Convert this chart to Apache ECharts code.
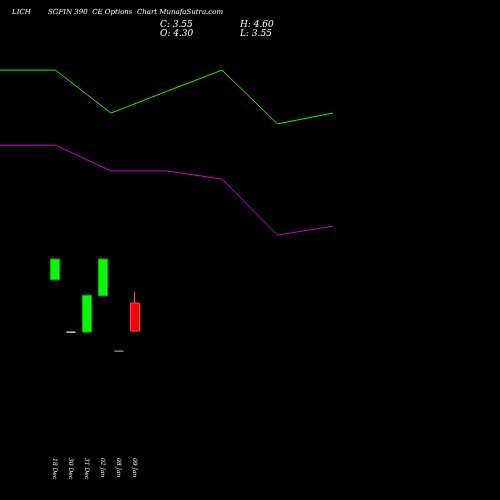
<!DOCTYPE html><html><head><meta charset="utf-8"><script src="https://cdn.jsdelivr.net/npm/echarts@6/dist/echarts.min.js"></script></head><body style="margin:0;background:#000"><div id="c" style="width:500px;height:500px"></div><script>
const dates=['18 Dec','30 Dec','31 Dec','02 Jan','08 Jan','09 Jan'];
// [open, close, low, high]
const candles=[[4.92,5.48,4.92,5.48],[3.52,3.52,3.52,3.52],[3.52,4.51,3.52,4.51],[4.49,5.48,4.49,5.48],[3.01,3.01,3.01,3.01],[4.30,3.55,3.55,4.60]];
const flatColors={1:'#88ff88',4:'#669966'};
const lineX=[0,1,2,3,4,5,6];
const greenLine=[10.54,10.54,9.39,9.97,10.54,9.10,9.39];
const magentaLine=[8.53,8.53,7.84,7.84,7.62,6.12,6.36];
const yMin=0.898,yMax=12.42;
const ch=echarts.init(document.getElementById('c'));
const f='italic 7px "DejaVu Serif"';
ch.setOption({backgroundColor:'#000',animation:false,
grid:[{left:0,width:333,top:0,height:430},{left:47,width:96,top:0,height:430}],
xAxis:[{gridIndex:0,type:'value',min:0,max:6,show:false},
{gridIndex:1,type:'category',data:dates,axisLine:{show:false},axisTick:{show:false},axisLabel:{rotate:-90,color:'#fff',fontSize:6,fontFamily:'DejaVu Serif',fontStyle:'italic',margin:28}}],
yAxis:[{gridIndex:0,min:yMin,max:yMax,show:false},{gridIndex:1,min:yMin,max:yMax,show:false}],
series:[
{type:'line',xAxisIndex:0,yAxisIndex:0,data:lineX.map((x,i)=>[x,greenLine[i]]),symbol:'none',lineStyle:{color:'#00ff00',width:1}},
{type:'line',xAxisIndex:0,yAxisIndex:0,data:lineX.map((x,i)=>[x,magentaLine[i]]),symbol:'none',lineStyle:{color:'#cc00cc',width:1}},
{type:'candlestick',xAxisIndex:1,yAxisIndex:1,barWidth:9,
 data:candles.map((c,i)=>flatColors[i]?{value:c,itemStyle:{color:flatColors[i],color0:flatColors[i],borderColor:flatColors[i],borderColor0:flatColors[i]}}:c),
 itemStyle:{color:'#00ff00',color0:'#ff0000',borderColor:'#00aa00',borderColor0:'#ff4444',borderWidth:1}}
],
graphic:[
{type:'text',left:12,top:9,style:{text:'LICH',fill:'#fff',font:f}},
{type:'text',left:48,top:9,style:{text:'SGFIN 390  CE Options  Chart MunafaSutra.com',fill:'#fff',font:f}},
{type:'text',left:160,top:20,style:{text:'C: 3.55',fill:'#fff',font:'italic 9px "DejaVu Serif"'}},
{type:'text',left:160,top:29,style:{text:'O: 4.30',fill:'#fff',font:'italic 9px "DejaVu Serif"'}},
{type:'text',left:240,top:20,style:{text:'H: 4.60',fill:'#fff',font:'italic 9px "DejaVu Serif"'}},
{type:'text',left:240,top:29,style:{text:'L: 3.55',fill:'#fff',font:'italic 9px "DejaVu Serif"'}}
]});
</script></body></html>
